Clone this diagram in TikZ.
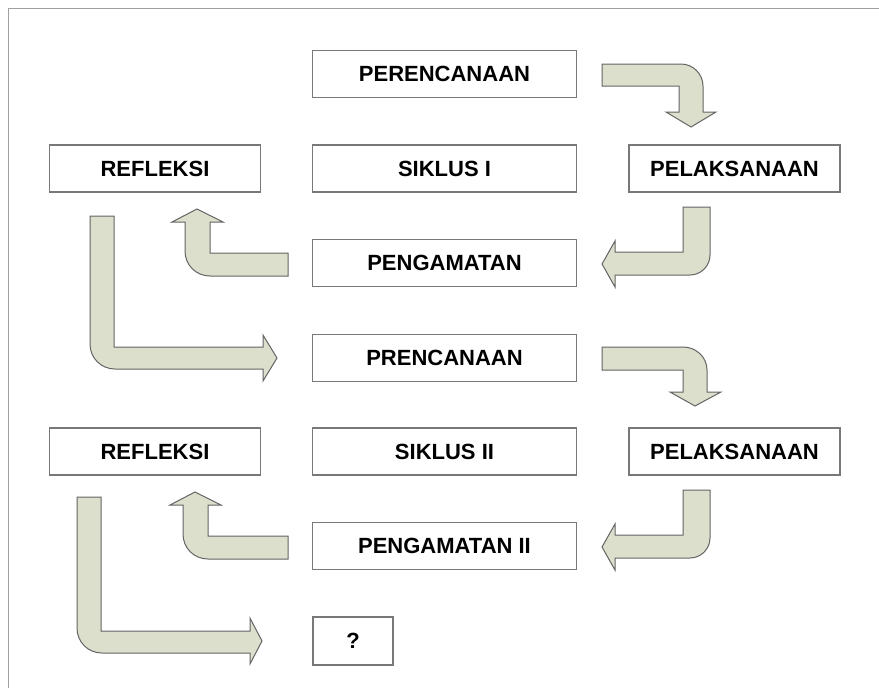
\documentclass[tikz,border=0pt]{standalone}
\usepackage{fontspec}
\setmainfont{Liberation Sans}
\definecolor{framegray}{RGB}{160,160,160}
\definecolor{boxgray}{RGB}{120,120,120}
\definecolor{arrowfill}{RGB}{221,223,205}
\definecolor{arrowline}{RGB}{100,100,100}
\begin{document}
\begin{tikzpicture}[x=1pt,y=-1pt,
  box/.style={draw=boxgray,line width=1.1pt,fill=white,inner sep=0pt,
    font=\fontsize{22}{26}\selectfont\bfseries},
  wide/.style={box,minimum width=264pt,minimum height=47pt},
  side/.style={box,minimum width=211pt,minimum height=47pt},
  blockarrow/.style={fill=arrowfill,draw=arrowline,line width=1pt,line join=miter}]
\useasboundingbox (0,0) rectangle (879,688);
\fill[white] (0,0) rectangle (879,688);
\draw[framegray,line width=1pt] (8,688) -- (8,8) -- (879,8);

% nodes
\node[wide] (per) at (444.5,74) {PERENCANAAN};
\node[side] (ref1) at (155,168.5) {REFLEKSI};
\node[wide] (sik1) at (444.5,168.5) {SIKLUS I};
\node[side] (pel1) at (734.5,168.5) {PELAKSANAAN};
\node[wide] (pen1) at (444.5,263) {PENGAMATAN};
\node[wide] (pre) at (444.5,358) {PRENCANAAN};
\node[side] (ref2) at (155,451.5) {REFLEKSI};
\node[wide] (sik2) at (444.5,451.5) {SIKLUS II};
\node[side] (pel2) at (734.5,451.5) {PELAKSANAAN};
\node[wide] (pen2) at (444.5,546) {PENGAMATAN II};
\node[box,minimum width=80pt,minimum height=48pt] (q) at (353,641) {?};

% arrow 1: PERENCANAAN -> PELAKSANAAN
\draw[blockarrow] (602,64) -- (681,64) .. controls (693,64) and (703,74) .. (703,86)
  -- (703,112) -- (716,112) -- (691,127) -- (666,112) -- (679,112) -- (679,86) -- (602,86) -- cycle;
% arrow 2: PELAKSANAAN -> PENGAMATAN
\draw[blockarrow] (683,207) -- (710,207) -- (710,255) .. controls (710,266) and (701,275) .. (690,275)
  -- (615,275) -- (615,287) -- (602,264) -- (615,241) -- (615,252) -- (683,252) -- cycle;
% arrow 3: PENGAMATAN -> REFLEKSI
\draw[blockarrow] (288,253) -- (210,253) -- (210,222) -- (223,222) -- (197,209) -- (172,222) -- (185,222)
  -- (185,251) .. controls (185,265) and (196,276) .. (210,276) -- (288,276) -- cycle;
% arrow 4: REFLEKSI -> PRENCANAAN
\draw[blockarrow] (90,216) -- (114,216) -- (114,347) -- (263,347) -- (263,335) -- (277,358) -- (263,381)
  -- (263,369) -- (115,369) .. controls (101,369) and (90,358) .. (90,344) -- cycle;
% arrow 5: PRENCANAAN -> PELAKSANAAN
\draw[blockarrow] (602,347) -- (683,347) .. controls (696,347) and (707,357) .. (707,370)
  -- (707,392) -- (721,392) -- (695,406) -- (670,392) -- (683,392) -- (683,370) -- (602,370) -- cycle;
% arrow 6: PELAKSANAAN -> PENGAMATAN II
\draw[blockarrow] (683,490) -- (710,490) -- (710,538) .. controls (710,549) and (701,558) .. (690,558)
  -- (615,558) -- (615,570) -- (602,547) -- (615,524) -- (615,535) -- (683,535) -- cycle;
% arrow 7: PENGAMATAN II -> REFLEKSI
\draw[blockarrow] (288,536) -- (208,536) -- (208,505) -- (221,505) -- (195,492) -- (170,505) -- (183,505)
  -- (183,534) .. controls (183,548) and (194,559) .. (208,559) -- (288,559) -- cycle;
% arrow 8: REFLEKSI -> ?
\draw[blockarrow] (77,497) -- (101,497) -- (101,631) -- (250,631) -- (250,618) -- (262,641) -- (250,664)
  -- (250,653) -- (102,653) .. controls (88,653) and (77,642) .. (77,628) -- cycle;
\end{tikzpicture}
\end{document}
